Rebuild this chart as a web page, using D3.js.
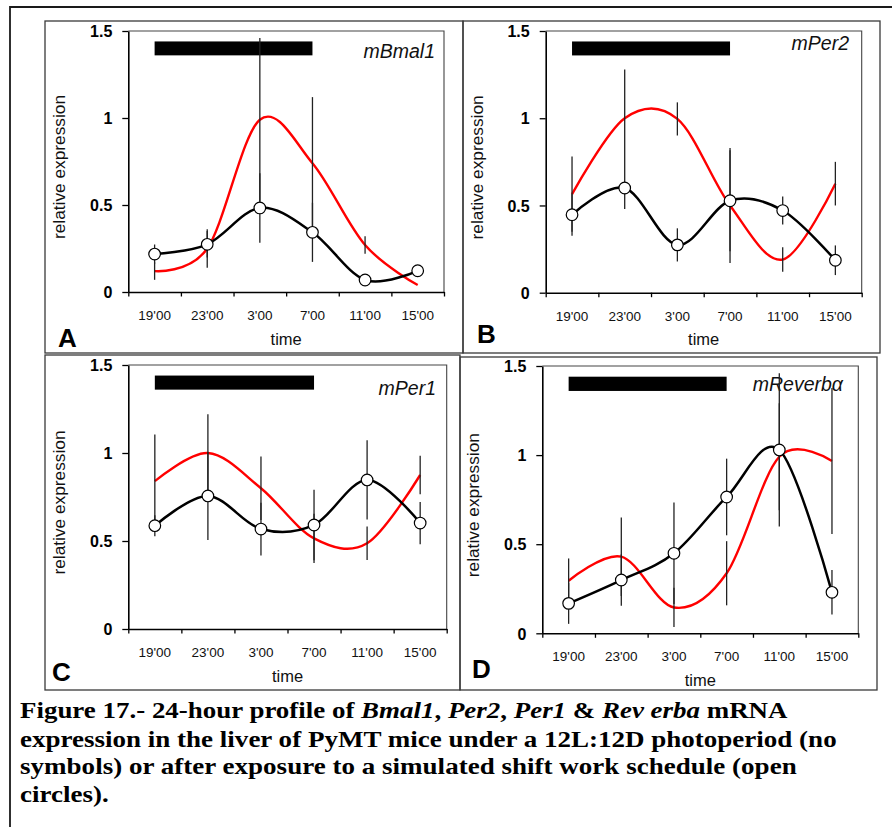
<!DOCTYPE html>
<html><head><meta charset="utf-8">
<script src="https://cdn.jsdelivr.net/npm/d3@7"></script>
<style>body{margin:0;background:#fff}</style>
</head><body>
<svg id="chart" width="892" height="827"></svg>
<script>
// ---------------- data ----------------
const times = ["19'00", "23'00", "3'00", "7'00", "11'00", "15'00"];
const yTicks = [0, 0.5, 1, 1.5];
const darkPhase = ["19'00", "7'00"];
const darkBarLevel = [1.36, 1.44];
const panelLetters = ["A", "B", "C", "D"];
const geneLabels = ["mBmal1", "mPer2", "mPer1", "mReverbα"];

// red curve: 12L:12D photoperiod (no symbols); black: simulated shift work (open circles)
const bmal1Control    = [0.12, 0.25, 0.99, 0.74, 0.27, 0.04];
const bmal1ControlSem = [0.05, 0.11, 0.47, 0.38, 0.05, 0];
const bmal1Shift      = [0.218, 0.274, 0.483, 0.343, 0.069, 0.122];
const bmal1ShiftSem   = [0.055, 0.076, 0.2, 0.17, 0, 0];

const per2Control     = [0.565, 1.0, 0.996, 0.5, 0.19, 0.625];
const per2ControlSem  = [0.215, 0.28, 0.095, 0.33, 0.07, 0.125];
const per2Shift       = [0.447, 0.60, 0.274, 0.527, 0.471, 0.186];
const per2ShiftSem    = [0.12, 0.12, 0.095, 0.29, 0.08, 0.085];

const per1Control     = [0.84, 1.0, 0.80, 0.515, 0.487, 0.875];
const per1ControlSem  = [0.265, 0.22, 0.18, 0.14, 0.095, 0.11];
const per1Shift       = [0.587, 0.756, 0.568, 0.591, 0.847, 0.602];
const per1ShiftSem    = [0.06, 0.25, 0.15, 0.2, 0.225, 0.12];

const reverbControl    = [0.295, 0.43, 0.145, 0.337, 0.991, 0.967];
const reverbControlSem = [0.125, 0.22, 0.11, 0.18, 0.3, 0.41];
const reverbShift      = [0.168, 0.299, 0.449, 0.765, 1.029, 0.23];
const reverbShiftSem   = [0.115, 0.144, 0.285, 0.215, 0.43, 0.125];

const captionLines = [
  [["Figure 17.- 24-hour profile of ", 0], ["Bmal1", 1], [", ", 0], ["Per2", 1], [", ", 0], ["Per1", 1], [" & ", 0], ["Rev erba", 1], [" mRNA", 0]],
  [["expression in the liver of PyMT mice under a 12L:12D photoperiod (no", 0]],
  [["symbols) or after exposure to a simulated shift work schedule (open", 0]],
  [["circles).", 0]]
];

// ---------------- layout ----------------
const series = [
  [bmal1Control, bmal1ControlSem, bmal1Shift, bmal1ShiftSem],
  [per2Control, per2ControlSem, per2Shift, per2ShiftSem],
  [per1Control, per1ControlSem, per1Shift, per1ShiftSem],
  [reverbControl, reverbControlSem, reverbShift, reverbShiftSem]
];
const layout = [
  {box: [45, 21, 463, 353], plot: [128.3, 444, 31, 292], letter: [58, 347], gene: [435, 58]},
  {box: [463, 21, 880, 353], plot: [545.7, 861.7, 31, 292.7], letter: [477, 343], gene: [849, 50]},
  {box: [45, 355, 460, 690], plot: [128.3, 446.7, 365, 629], letter: [52, 681], gene: [436, 395]},
  {box: [460, 357, 877, 690], plot: [542.3, 858.3, 366, 633.3], letter: [472, 678], gene: [843, 391]}
];

const SANS = "'Liberation Sans', Arial, Helvetica, sans-serif";
const SERIF = "'Liberation Serif', 'Times New Roman', Times, serif";
const svg = d3.select("#chart");
svg.append("rect").attr("width", 892).attr("height", 827).attr("fill", "#fff");

// outer frame
svg.append("path").attr("d", "M10,827V7H892").attr("fill", "none")
  .attr("stroke", "#1a1a1a").attr("stroke-width", 1.8);

layout.forEach((L, i) => {
  const [ctrl, ctrlSem, shift, shiftSem] = series[i];
  const [x0, x1, yTop, yZero] = L.plot;
  const g = svg.append("g");

  // panel box
  g.append("rect").attr("x", L.box[0]).attr("y", L.box[1])
    .attr("width", L.box[2] - L.box[0]).attr("height", L.box[3] - L.box[1])
    .attr("fill", "none").attr("stroke", "#3a3a3a").attr("stroke-width", 1.3);

  const x = d3.scaleBand().domain(times).range([x0, x1]);
  const xi = d3.scaleLinear().domain([0, times.length]).range([x0, x1]);
  const y = d3.scaleLinear().domain([0, 1.5]).range([yZero, yTop]);
  const cx = t => x(t) + x.bandwidth() / 2;

  // plot frame (top / right)
  g.append("path").attr("d", `M${x0},${yTop}H${x1}V${yZero}`)
    .attr("fill", "none").attr("stroke", "#444").attr("stroke-width", 1.1);

  // dark-phase bar
  g.append("rect")
    .attr("x", cx(darkPhase[0]))
    .attr("width", cx(darkPhase[1]) - cx(darkPhase[0]))
    .attr("y", y(darkBarLevel[1]))
    .attr("height", y(darkBarLevel[0]) - y(darkBarLevel[1]))
    .attr("fill", "#000");

  // y axis
  const ya = g.append("g").attr("transform", `translate(${x0},0)`)
    .call(d3.axisLeft(y).tickValues(yTicks).tickSize(6).tickSizeOuter(0).tickPadding(10)
      .tickFormat(d => String(d)));
  ya.select(".domain").attr("stroke", "#000").attr("stroke-width", 1.6);
  ya.selectAll(".tick line").attr("stroke", "#000").attr("stroke-width", 1.3);
  ya.selectAll(".tick text").attr("font-family", SANS).attr("font-size", 16)
    .attr("font-weight", "bold").attr("fill", "#000").attr("dy", "0.36em");

  // x axis ticks at band boundaries
  const xa = g.append("g").attr("transform", `translate(0,${yZero})`)
    .call(d3.axisBottom(xi).tickValues(d3.range(times.length + 1)).tickSize(4.5).tickSizeOuter(0).tickFormat(""));
  xa.select(".domain").attr("stroke", "#000").attr("stroke-width", 1.6);
  xa.selectAll(".tick line").attr("stroke", "#000").attr("stroke-width", 1.3);

  // x category labels
  const xl = g.append("g").attr("transform", `translate(0,${yZero})`)
    .call(d3.axisBottom(x).tickSize(0));
  xl.select(".domain").remove();
  xl.selectAll(".tick text").attr("font-family", SANS).attr("font-size", 13.5)
    .attr("fill", "#111").attr("y", 28).attr("dy", 0);

  // axis titles
  g.append("text").attr("x", (x0 + x1) / 2).attr("y", yZero + 52.5)
    .attr("text-anchor", "middle").attr("font-family", SANS).attr("font-size", 16.5)
    .attr("fill", "#111").text("time");
  g.append("text")
    .attr("transform", `translate(${x0 - 63},${(yTop + yZero) / 2 + 5.5}) rotate(-90)`)
    .attr("text-anchor", "middle").attr("font-family", SANS).attr("font-size", 17.3)
    .attr("fill", "#111").text("relative expression");

  // gene label
  g.append("text").attr("x", L.gene[0]).attr("y", L.gene[1])
    .attr("text-anchor", "end").attr("font-family", SANS).attr("font-size", 19.5)
    .attr("font-style", "italic").attr("fill", "#111").text(geneLabels[i]);

  // panel letter
  g.append("text").attr("x", L.letter[0]).attr("y", L.letter[1])
    .attr("font-family", SANS).attr("font-size", 26).attr("font-weight", "bold")
    .attr("fill", "#000").text(panelLetters[i]);

  const line = d3.line().x((d, k) => cx(times[k])).y(d => y(d))
    .curve(d3.curveCardinal.tension(0));

  g.append("path").datum(ctrl).attr("d", line).attr("fill", "none")
    .attr("stroke", "#ff0000").attr("stroke-width", 2.4);
  g.append("path").datum(shift).attr("d", line).attr("fill", "none")
    .attr("stroke", "#000").attr("stroke-width", 2.5);

  // error bars
  const errs = [];
  times.forEach((t, k) => {
    if (ctrlSem[k] > 0) errs.push({t, lo: ctrl[k] - ctrlSem[k], hi: ctrl[k] + ctrlSem[k]});
    if (shiftSem[k] > 0) errs.push({t, lo: shift[k] - shiftSem[k], hi: shift[k] + shiftSem[k]});
  });
  g.selectAll(".err").data(errs).join("line")
    .attr("x1", d => cx(d.t)).attr("x2", d => cx(d.t))
    .attr("y1", d => y(d.lo)).attr("y2", d => y(d.hi))
    .attr("stroke", "#222").attr("stroke-width", 1.3);

  // open circles
  g.selectAll(".pt").data(shift).join("circle")
    .attr("cx", (d, k) => cx(times[k])).attr("cy", d => y(d)).attr("r", 5.8)
    .attr("fill", "#fff").attr("stroke", "#000").attr("stroke-width", 1.2);
});

// caption
const capBase = [718.3, 746.5, 774.2, 801.8];
const capRight = [788, 837, 797, null];
const capNodes = captionLines.map((parts, li) => {
  const t = svg.append("text").attr("x", 0).attr("y", 0)
    .attr("font-family", SERIF).attr("font-size", 23.5).attr("font-weight", "bold").attr("fill", "#000");
  parts.forEach(([s, it]) => {
    t.append("tspan").attr("font-style", it ? "italic" : "normal").text(s);
  });
  return t;
});
const scales = capNodes.map((t, li) => capRight[li] ? (capRight[li] - 20) / t.node().getComputedTextLength() : null);
const avg = d3.mean(scales.filter(s => s));
capNodes.forEach((t, li) => {
  const s = scales[li] || avg;
  t.attr("transform", `translate(20,${capBase[li]}) scale(${s},1)`);
});
</script>
</body></html>
